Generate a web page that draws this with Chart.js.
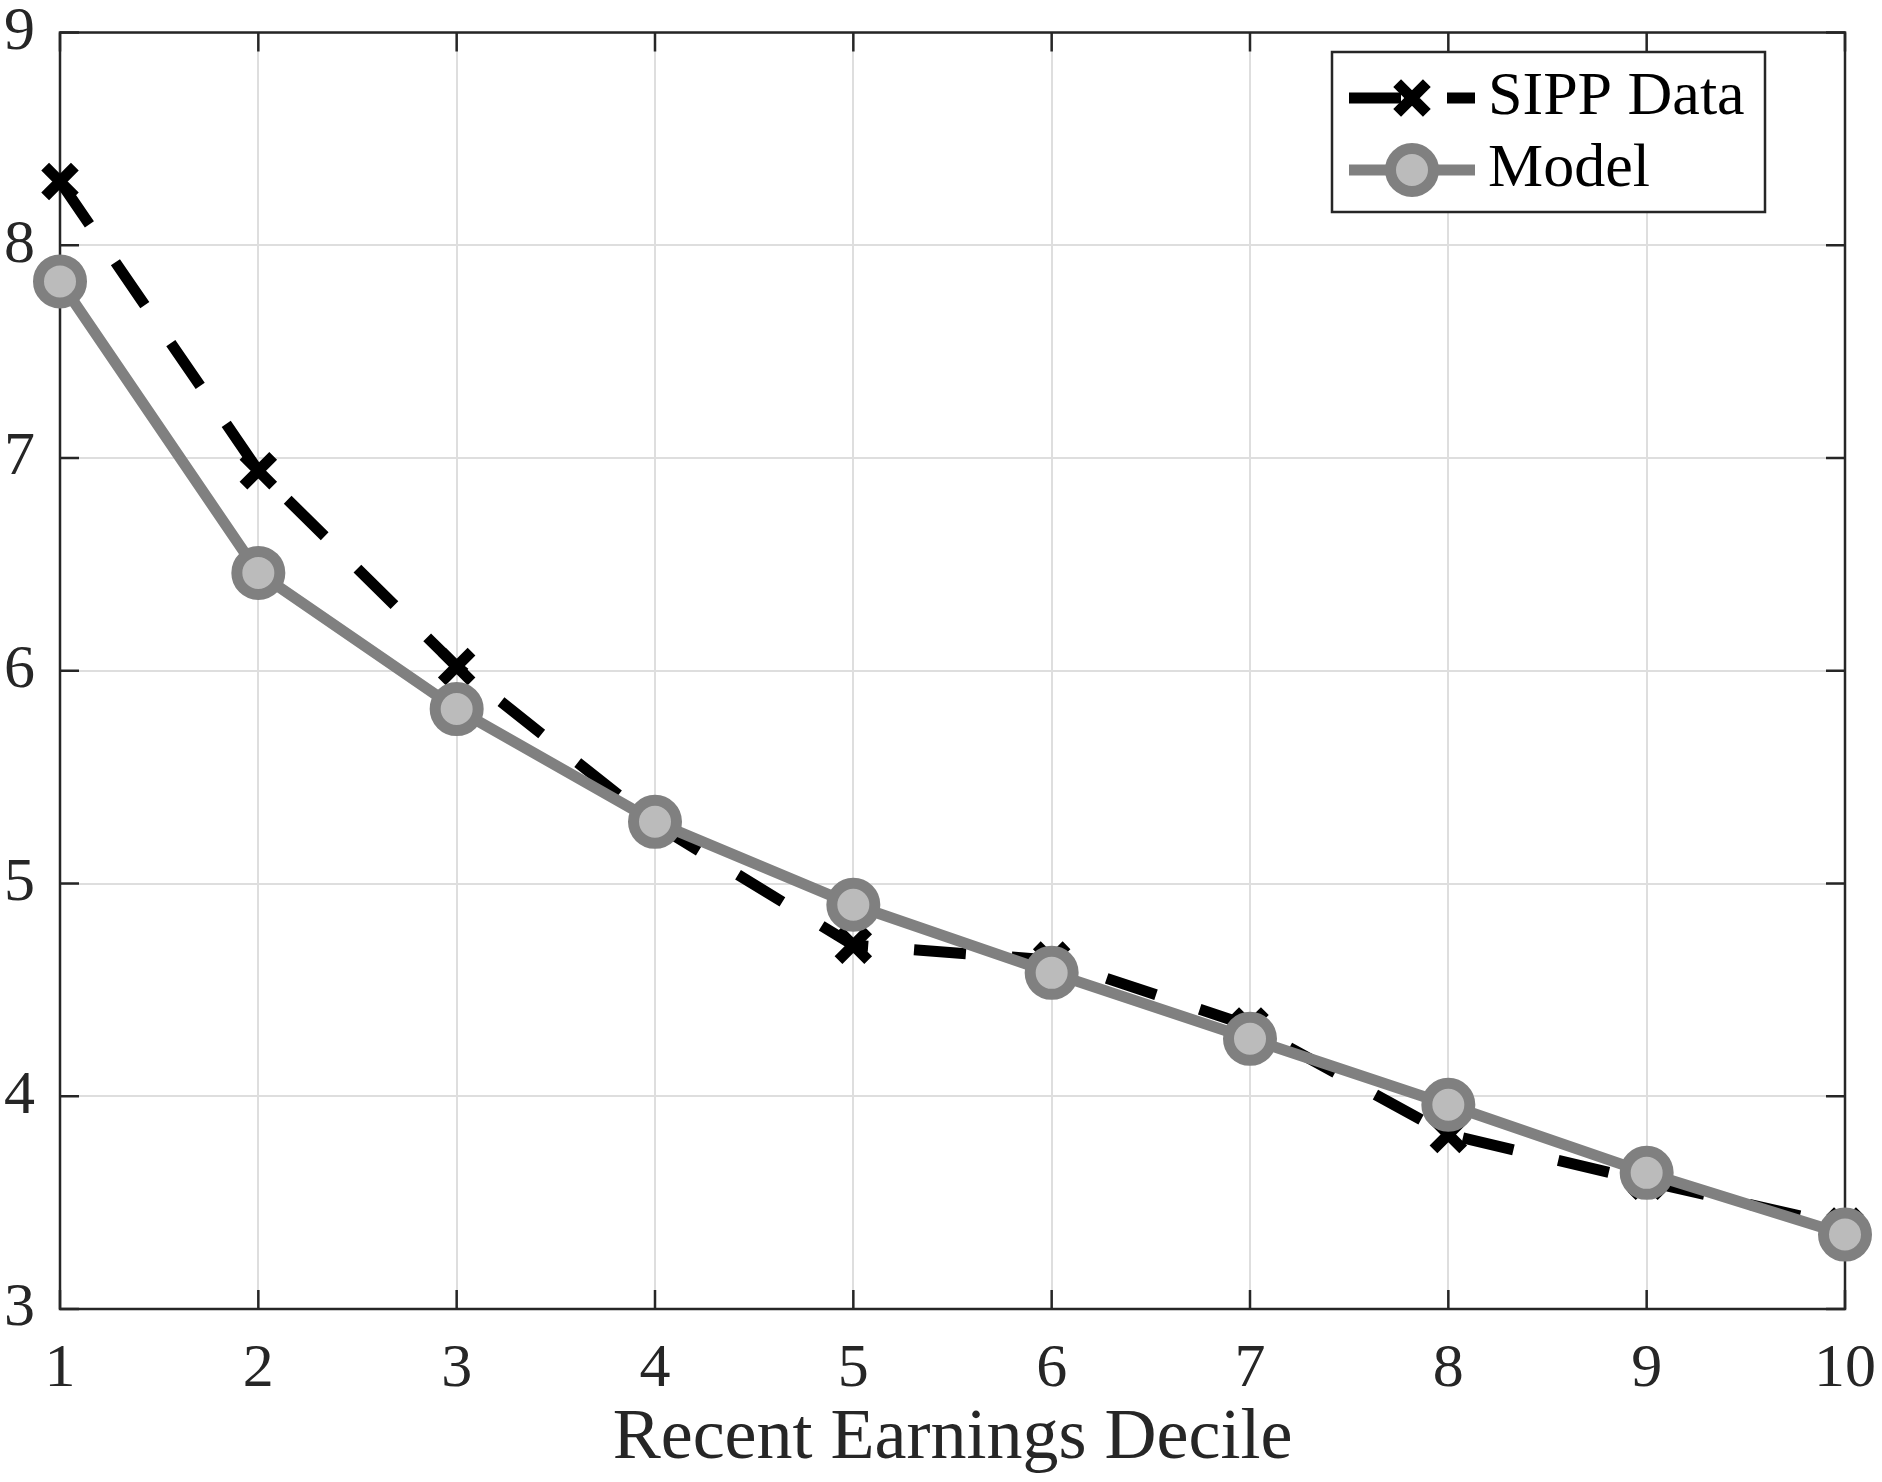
<!DOCTYPE html>
<html>
<head>
<meta charset="utf-8">
<script src="https://cdn.jsdelivr.net/npm/chart.js@4.4.1/dist/chart.umd.min.js"></script>
<style>
  html, body { margin: 0; padding: 0; background: #fff; }
  #wrap { width: 1882px; height: 1482px; position: relative; }
</style>
</head>
<body>
<div id="wrap"><canvas id="decileChart"></canvas></div>
<script>
// deciles on the x axis
const deciles = [1, 2, 3, 4, 5, 6, 7, 8, 9, 10];
// SIPP data (black dashed, x markers)
const sippValues = [8.30, 6.94, 6.02, 5.28, 4.71, 4.64, 4.33, 3.82, 3.60, 3.39];
// model (grey solid, circles)
const modelValues = [7.83, 6.46, 5.82, 5.29, 4.90, 4.58, 4.27, 3.96, 3.64, 3.35];
const yTicks = [3, 4, 5, 6, 7, 8, 9];
const xTitle = 'Recent Earnings Decile';
const seriesNames = ['SIPP Data', 'Model'];

const SERIF = '"Liberation Serif", "DejaVu Serif", serif';
const AXIS = '#262626';
const GRID = '#dedede';
const DASH = [52, 46];

const toPoints = vals => vals.map((v, i) => ({ x: deciles[i], y: v }));

// box round the axes, with inward ticks on all four sides (drawn under the data)
const boxPlugin = {
  id: 'axesBox',
  beforeDatasetsDraw(chart) {
    const { ctx, chartArea: { left, right, top, bottom }, scales: { x, y } } = chart;
    const len = 19;
    ctx.save();
    ctx.strokeStyle = AXIS;
    ctx.lineWidth = 2.5;
    ctx.beginPath();
    deciles.forEach(d => {
      const px = x.getPixelForValue(d);
      ctx.moveTo(px, bottom); ctx.lineTo(px, bottom - len);
      ctx.moveTo(px, top); ctx.lineTo(px, top + len);
    });
    yTicks.forEach(t => {
      const py = y.getPixelForValue(t);
      ctx.moveTo(left, py); ctx.lineTo(left + len, py);
      ctx.moveTo(right, py); ctx.lineTo(right - len, py);
    });
    ctx.stroke();
    ctx.strokeRect(left, top, right - left, bottom - top);
    ctx.restore();
  }
};

// legend in the top right corner, line sample + marker like the plot
const legendPlugin = {
  id: 'insideLegend',
  afterDatasetsDraw(chart) {
    const { ctx } = chart;
    const bx = 1332, by = 52, bw = 433, bh = 160;
    const rows = [98, 170];
    const x0 = 1349, x1 = 1475, xm = 1412, tx = 1488;
    ctx.save();
    ctx.fillStyle = '#fff';
    ctx.fillRect(bx, by, bw, bh);
    ctx.strokeStyle = AXIS;
    ctx.lineWidth = 2.5;
    ctx.strokeRect(bx, by, bw, bh);

    chart.data.datasets.forEach(ds => {
      const ry = rows[ds.legendRow];
      ctx.save();
      ctx.strokeStyle = ds.borderColor;
      ctx.lineWidth = ds.borderWidth;
      ctx.lineCap = 'butt';
      ctx.setLineDash(ds.borderDash || []);
      ctx.beginPath();
      ctx.moveTo(x0, ry);
      ctx.lineTo(x1, ry);
      ctx.stroke();
      ctx.setLineDash([]);
      ctx.fillStyle = ds.pointBackgroundColor;
      ctx.strokeStyle = ds.pointBorderColor;
      ctx.lineWidth = ds.pointBorderWidth;
      Chart.helpers.drawPoint(ctx, {
        pointStyle: ds.pointStyle,
        radius: ds.pointRadius,
        rotation: 0,
        borderWidth: ds.pointBorderWidth
      }, xm, ry);
      ctx.restore();

      ctx.fillStyle = '#000';
      ctx.font = '62px ' + SERIF;
      ctx.textAlign = 'left';
      ctx.textBaseline = 'middle';
      ctx.fillText(ds.label, tx, ry);
    });
    ctx.restore();
  }
};

new Chart(document.getElementById('decileChart'), {
  type: 'line',
  data: {
    datasets: [
      {
        label: seriesNames[1],
        legendRow: 1,
        data: toPoints(modelValues),
        borderColor: '#808080',
        borderWidth: 11,
        pointStyle: 'circle',
        pointRadius: 21.5,
        pointBorderWidth: 11,
        pointBackgroundColor: '#bbbbbb',
        pointBorderColor: '#808080',
        tension: 0,
        clip: false,
        order: 0
      },
      {
        label: seriesNames[0],
        legendRow: 0,
        data: toPoints(sippValues),
        borderColor: '#000000',
        borderWidth: 11,
        borderDash: DASH,
        borderCapStyle: 'butt',
        pointStyle: 'crossRot',
        pointRadius: 21,
        pointBorderWidth: 11,
        pointBackgroundColor: '#000000',
        pointBorderColor: '#000000',
        tension: 0,
        clip: false,
        order: 1
      }
    ]
  },
  options: {
    responsive: true,
    maintainAspectRatio: false,
    animation: false,
    events: [],
    layout: { padding: { top: 27, right: 37, left: 0, bottom: 0 } },
    plugins: {
      legend: { display: false },
      tooltip: { enabled: false }
    },
    scales: {
      x: {
        type: 'linear',
        min: 1,
        max: 10,
        afterBuildTicks: s => { s.ticks = deciles.map(v => ({ value: v })); },
        ticks: {
          color: AXIS,
          font: { family: SERIF, size: 62 },
          padding: 24,
          maxRotation: 0
        },
        grid: { color: GRID, lineWidth: 2, drawTicks: false },
        border: { display: false },
        title: {
          display: true,
          text: xTitle,
          color: AXIS,
          font: { family: SERIF, size: 72 },
          padding: { top: 0, bottom: 0 }
        },
        afterFit: s => {
          s.height = 173;
          s.paddingLeft = 0;
          s.paddingRight = 0;
        }
      },
      y: {
        type: 'linear',
        min: 3,
        max: 9,
        afterBuildTicks: s => { s.ticks = yTicks.map(v => ({ value: v })); },
        ticks: {
          color: AXIS,
          font: { family: SERIF, size: 62 },
          padding: 25
        },
        grid: { color: GRID, lineWidth: 2, drawTicks: false },
        border: { display: false },
        afterFit: s => {
          s.width = 60;
          s.paddingTop = 0;
          s.paddingBottom = 0;
        }
      }
    }
  },
  plugins: [boxPlugin, legendPlugin]
});
</script>
</body>
</html>
